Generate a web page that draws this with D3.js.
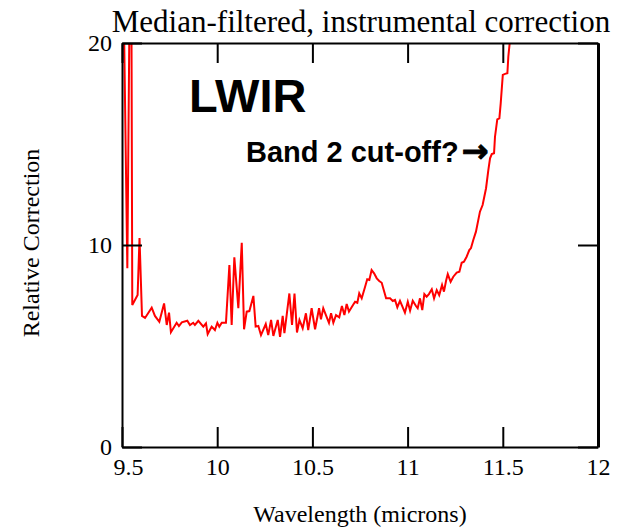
<!DOCTYPE html>
<html>
<head>
<meta charset="utf-8">
<script src="https://cdn.jsdelivr.net/npm/d3@7"></script>
<style>
  html, body { margin: 0; padding: 0; background: #fff; }
  svg { display: block; }
</style>
</head>
<body>
<svg id="chart" width="625" height="527"></svg>
<script>
// ---- data ----
const wavelength = [
  9.500, 9.528, 9.547, 9.554, 9.582, 9.592, 9.605, 9.621, 9.656, 9.673,
  9.696, 9.721, 9.735, 9.747, 9.757, 9.787, 9.799, 9.814, 9.843, 9.857,
  9.874, 9.883, 9.901, 9.927, 9.941, 9.950, 9.971, 9.988, 10.001, 10.011,
  10.024, 10.046, 10.064, 10.076, 10.090, 10.111, 10.129, 10.141, 10.155, 10.169,
  10.190, 10.202, 10.216, 10.230, 10.255, 10.268, 10.283, 10.295, 10.318, 10.330,
  10.344, 10.353, 10.379, 10.393, 10.406, 10.419, 10.432, 10.449, 10.466, 10.478,
  10.496, 10.514, 10.535, 10.545, 10.557, 10.571, 10.587, 10.598, 10.610, 10.624,
  10.641, 10.655, 10.668, 10.680, 10.692, 10.706, 10.724, 10.736, 10.746, 10.759,
  10.776, 10.788, 10.799, 10.811, 10.824, 10.838, 10.851, 10.864, 10.887, 10.908,
  10.922, 10.934, 10.946, 10.960, 10.974, 10.986, 11.001, 11.013, 11.027, 11.044,
  11.053, 11.065, 11.077, 11.088, 11.100, 11.112, 11.127, 11.139, 11.153, 11.166,
  11.181, 11.191, 11.202, 11.211, 11.226, 11.240, 11.258, 11.272, 11.284, 11.296,
  11.310, 11.324, 11.333, 11.345, 11.359, 11.380, 11.394, 11.412, 11.424, 11.433,
  11.442, 11.454, 11.459, 11.471, 11.482, 11.489, 11.500, 11.512, 11.524, 11.529,
  11.543, 11.556
];
const correction = [
  28.0, 8.85, 30.0, 7.03, 7.52, 10.35, 6.49, 6.39, 6.90, 6.49,
  6.20, 7.11, 6.04, 6.65, 5.68, 6.15, 5.99, 6.17, 6.25, 6.04,
  6.15, 6.04, 6.25, 5.96, 6.12, 5.59, 5.96, 5.79, 6.15, 5.96,
  6.15, 6.15, 9.01, 6.04, 9.39, 6.87, 10.11, 5.83, 6.70, 6.73,
  7.48, 5.96, 5.99, 5.54, 6.09, 5.54, 6.29, 5.50, 6.29, 5.45,
  6.49, 5.64, 7.60, 6.04, 7.60, 5.67, 6.29, 5.88, 6.62, 5.79,
  6.87, 5.83, 6.87, 6.32, 6.87, 6.53, 6.15, 6.62, 6.15, 6.53,
  6.42, 6.98, 6.53, 7.08, 6.70, 6.92, 7.19, 7.14, 7.61, 7.36,
  7.91, 8.30, 8.27, 8.76, 8.60, 8.35, 8.22, 8.13, 7.36, 7.36,
  7.23, 7.28, 6.92, 7.24, 6.92, 6.65, 7.19, 6.75, 7.24, 6.98,
  6.87, 7.36, 6.78, 7.57, 7.44, 7.57, 7.81, 7.36, 7.77, 7.52,
  8.02, 7.69, 8.23, 8.56, 8.18, 8.43, 8.63, 8.68, 9.12, 9.17,
  9.42, 9.75, 9.85, 10.25, 10.66, 11.65, 11.98, 12.81, 13.71, 14.29,
  14.50, 14.54, 15.36, 16.22, 16.27, 17.01, 18.42, 18.47, 18.50, 19.32,
  20.64, 22.0
];
const xTicks = [9.5, 10, 10.5, 11, 11.5, 12];
const xTickLabels = ["9.5", "10", "10.5", "11", "11.5", "12"];
const yTicks = [0, 10, 20];
const yTickLabels = ["0", "10", "20"];
const titleText = "Median-filtered, instrumental correction";
const xLabel = "Wavelength (microns)";
const yLabel = "Relative Correction";
const bandLabel = "LWIR";
const noteLabel = "Band 2 cut-off?";
const noteArrow = "\u2192";

// ---- layout ----
const W = 625, H = 527;
const margin = { left: 122, right: 27, top: 43, bottom: 80 };
const iw = W - margin.left - margin.right;
const ih = H - margin.top - margin.bottom;
const serif = "'Liberation Serif', 'Times New Roman', Times, serif";
const sans = "'Liberation Sans', Arial, Helvetica, sans-serif";

const svg = d3.select("#chart");
const g = svg.append("g").attr("transform", `translate(${margin.left},${margin.top})`);

const x = d3.scaleLinear().domain([9.5, 12]).range([0, iw]);
const y = d3.scaleLinear().domain([0, 20]).range([ih, 0]);

svg.append("defs").append("clipPath").attr("id", "plotclip")
  .append("rect").attr("x", 0).attr("y", 0).attr("width", iw).attr("height", ih);

// data line
const pts = wavelength.map((w, i) => [w, correction[i]]);
g.append("path")
  .datum(pts)
  .attr("clip-path", "url(#plotclip)")
  .attr("fill", "none")
  .attr("stroke", "#ff0000")
  .attr("stroke-width", 2)
  .attr("stroke-linejoin", "miter")
  .attr("d", d3.line().x(d => x(d[0])).y(d => y(d[1])));

// axes (inward ticks on all four sides)
function styleAxis(sel, width) {
  sel.select(".domain").attr("stroke", "#000").attr("stroke-width", width);
  sel.selectAll(".tick line").attr("stroke", "#000").attr("stroke-width", 2);
  sel.selectAll(".tick text").attr("font-family", serif).attr("font-size", 24).attr("fill", "#000");
}
const xb = g.append("g").attr("transform", `translate(0,${ih})`)
  .call(d3.axisBottom(x).tickValues(xTicks).tickFormat((d, i) => xTickLabels[i])
    .tickSizeInner(-20).tickSizeOuter(0).tickPadding(11));
styleAxis(xb, 2);
xb.selectAll(".tick text").filter((d, i) => i === 0).attr("dx", 6);

const xt = g.append("g")
  .call(d3.axisTop(x).tickValues(xTicks).tickFormat("").tickSizeInner(-20).tickSizeOuter(0));
styleAxis(xt, 2);

const yl = g.append("g")
  .call(d3.axisLeft(y).tickValues(yTicks).tickFormat((d, i) => yTickLabels[i])
    .tickSizeInner(-20).tickSizeOuter(0).tickPadding(10));
styleAxis(yl, 2);

const yr = g.append("g").attr("transform", `translate(${iw},0)`)
  .call(d3.axisRight(y).tickValues(yTicks).tickFormat("").tickSizeInner(-20).tickSizeOuter(0));
styleAxis(yr, 3);

// title and axis labels
svg.append("text").attr("x", 361).attr("y", 32).attr("text-anchor", "middle")
  .attr("font-family", serif).attr("font-size", 31).text(titleText);
svg.append("text").attr("x", margin.left + iw / 2).attr("y", 522).attr("text-anchor", "middle")
  .attr("font-family", serif).attr("font-size", 24).text(xLabel);
svg.append("text").attr("transform", `translate(39,${margin.top + ih / 2 - 2}) rotate(-90)`)
  .attr("text-anchor", "middle").attr("font-family", serif).attr("font-size", 24).text(yLabel);

// annotations
svg.append("text").attr("x", 189).attr("y", 112)
  .attr("font-family", sans).attr("font-weight", "bold").attr("font-size", 47).text(bandLabel);
const note = svg.append("text").attr("x", 246).attr("y", 162)
  .attr("font-family", sans).attr("font-weight", "bold").attr("font-size", 29);
note.append("tspan").text(noteLabel);
note.append("tspan").attr("font-family", "'DejaVu Sans', sans-serif").attr("font-size", 32)
  .attr("stroke", "#000").attr("stroke-width", 1)
  .attr("dx", 3).text(noteArrow);
</script>
</body>
</html>
